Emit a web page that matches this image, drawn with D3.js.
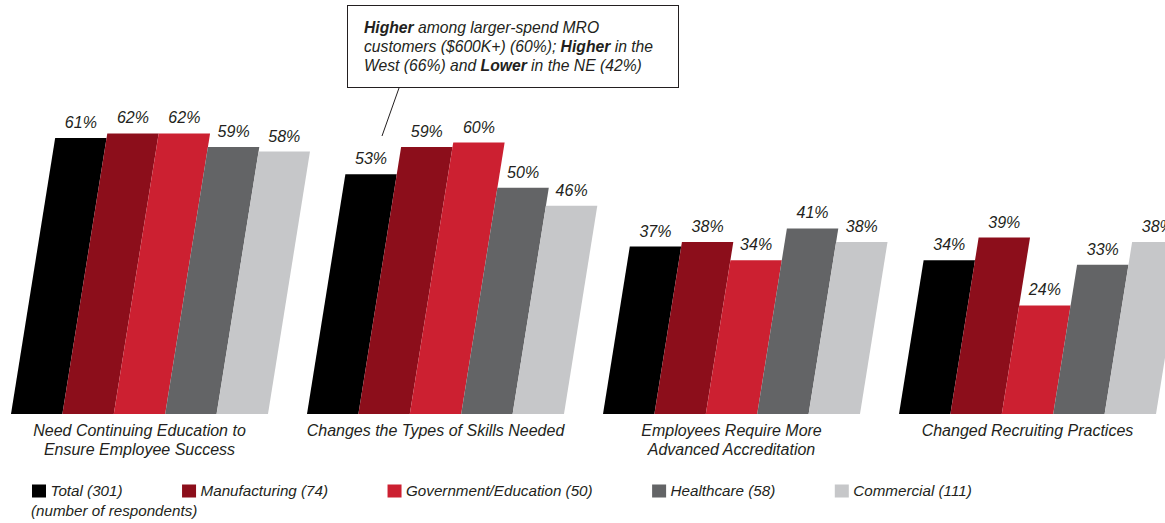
<!DOCTYPE html>
<html>
<head>
<meta charset="utf-8">
<script src="https://cdn.jsdelivr.net/npm/d3@7"></script>
<style>
  html, body { margin: 0; padding: 0; background: #ffffff; }
  svg { display: block; font-family: "Liberation Sans", Arial, Helvetica, sans-serif; }
  text { fill: #231f20; font-style: italic; }
</style>
</head>
<body>
<svg id="chart" width="1165" height="523"></svg>
<script>
// Survey results: share of respondents per segment
const categories = [
  ["Need Continuing Education to", "Ensure Employee Success"],
  ["Changes the Types of Skills Needed"],
  ["Employees Require More", "Advanced Accreditation"],
  ["Changed Recruiting Practices"]
];
const seriesNames = ["Total (301)", "Manufacturing (74)", "Government/Education (50)", "Healthcare (58)", "Commercial (111)"];
const total         = [61, 53, 37, 34];
const manufacturing = [62, 59, 38, 39];
const government    = [62, 60, 34, 24];
const healthcare    = [59, 50, 41, 33];
const commercial    = [58, 46, 38, 38];
const seriesValues = [total, manufacturing, government, healthcare, commercial];
const colors = ["#000000", "#8c0e1b", "#cc2031", "#636466", "#c6c7c9"];
const footnote = "(number of respondents)";
const callout = [
  [{t: "Higher", b: true}, {t: " among larger-spend MRO"}],
  [{t: "customers ($600K+) (60%); "}, {t: "Higher", b: true}, {t: " in the"}],
  [{t: "West (66%) and "}, {t: "Lower", b: true}, {t: " in the NE (42%)"}]
];

const svg = d3.select("#chart");
const baseY = 414;
const slant = 0.16;           // horizontal lean per pixel of bar height

const x0 = d3.scaleBand().domain(d3.range(categories.length)).range([11, 1156]).paddingInner(0.1318).paddingOuter(0);
const x1 = d3.scaleBand().domain(d3.range(seriesNames.length)).range([0, x0.bandwidth()]).padding(0);
const y = d3.scaleLinear().domain([0, 100]).range([baseY, baseY - 452.5]);

const bars = [];
categories.forEach((c, gi) => {
  seriesValues.forEach((vals, si) => bars.push({gi, si, v: vals[gi]}));
});

const g = svg.append("g");
g.selectAll("path.bar").data(bars).enter().append("path")
  .attr("class", "bar")
  .attr("fill", d => colors[d.si])
  .attr("d", d => {
    const xl = x0(d.gi) + x1(d.si);
    const w = x1.bandwidth();
    const top = y(d.v);
    const h = baseY - top;
    const s = h * slant;
    return `M${xl},${baseY}L${xl + w},${baseY}L${xl + w + s},${top}L${xl + s},${top}Z`;
  });

g.selectAll("text.val").data(bars).enter().append("text")
  .attr("class", "val")
  .attr("text-anchor", "middle")
  .attr("font-size", 16)
  .attr("x", d => x0(d.gi) + x1(d.si) + x1.bandwidth() / 2 + (baseY - y(d.v)) * slant)
  .attr("y", d => y(d.v) - 10)
  .text(d => d.v + "%");

// category labels under each group
const cat = svg.append("g").selectAll("text.cat").data(categories).enter().append("text")
  .attr("class", "cat")
  .attr("text-anchor", "middle")
  .attr("font-size", 16)
  .attr("x", (d, i) => x0(i) + x0.bandwidth() / 2)
  .attr("y", 436);
cat.selectAll("tspan").data(d => d).enter().append("tspan")
  .attr("x", function() { return d3.select(this.parentNode).attr("x"); })
  .attr("dy", (d, i) => i === 0 ? 0 : 19)
  .text(d => d);

// legend
const leg = svg.append("g");
let lx = 32;
seriesNames.forEach((name, i) => {
  leg.append("rect").attr("x", lx).attr("y", 484.5).attr("width", 14).attr("height", 13).attr("fill", colors[i]);
  const t = leg.append("text").attr("x", lx + 18.5).attr("y", 496).attr("font-size", 15.2).text(name);
  lx += 18.5 + t.node().getComputedTextLength() + 59.5;
});
leg.append("text").attr("x", 31).attr("y", 516).attr("font-size", 15.2).text(footnote);

// callout box with leader line
const cb = svg.append("g");
cb.append("rect").attr("x", 347.5).attr("y", 5.5).attr("width", 331).attr("height", 82)
  .attr("fill", "#ffffff").attr("stroke", "#231f20").attr("stroke-width", 1);
cb.append("line").attr("x1", 399).attr("y1", 88).attr("x2", 382).attr("y2", 136)
  .attr("stroke", "#231f20").attr("stroke-width", 1);
callout.forEach((line, li) => {
  const t = cb.append("text").attr("x", 364).attr("y", 33 + li * 19).attr("font-size", 15.7);
  line.forEach(seg => {
    t.append("tspan").attr("font-weight", seg.b ? "bold" : "normal").text(seg.t);
  });
});
</script>
</body>
</html>
